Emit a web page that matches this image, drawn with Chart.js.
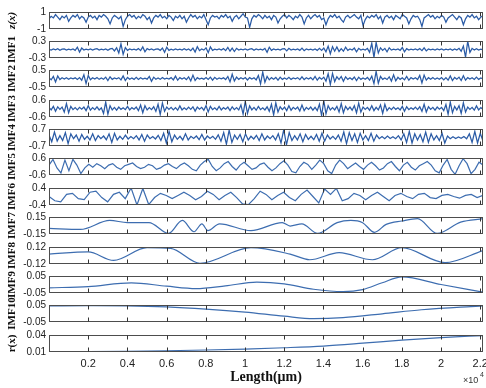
<!DOCTYPE html>
<html><head><meta charset="utf-8">
<script src="https://cdn.jsdelivr.net/npm/chart.js@4/dist/chart.umd.min.js"></script>
<style>
html,body{margin:0;padding:0;background:#fff;}
#wrap{position:relative;width:486px;height:388px;overflow:hidden;background:#fff;}
#wrap canvas{position:absolute;left:0;top:0;}
</style></head><body><div id="wrap"></div>
<script>
// ---------- DATA ----------
const panelNames = ['z(x)','IMF1','IMF2','IMF3','IMF4','IMF5','IMF6','IMF7','IMF8','IMF9','IMF10','r(x)'];
const yMaxVals = [1,0.3,0.5,0.6,0.7,0.6,0.4,0.15,0.12,0.05,0.05,0.04];
const yMinVals = [-1,-0.3,-0.5,-0.6,-0.7,-0.6,-0.4,-0.15,-0.12,-0.05,-0.05,0.01];
const yTopLabels = ['1','0.3','0.5','0.6','0.7','0.6','0.4','0.15','0.12','0.05','0.05','0.04'];
const yBottomLabels = ['-1','-0.3','-0.5','-0.6','-0.7','-0.6','-0.4','-0.15','-0.12','-0.05','-0.05','0.01'];
const xTickValues = [0.2,0.4,0.6,0.8,1.0,1.2,1.4,1.6,1.8,2.0,2.2];
const xTickLabels = ['0.2','0.4','0.6','0.8','1','1.2','1.4','1.6','1.8','2','2.2'];
const xMax = 2.214;

const zx = [
0.2,0.5,0.3,0.7,0.4,0.1,0.5,0.3,0.6,-0.1,0.3,0.6,0.4,0.7,0.2,0.5,0.3,-0.2,0.4,0.6,
0.3,0.5,0.1,0.6,0.4,0.7,0.5,0.2,-0.4,0.3,0.6,0.4,0.2,0.5,-0.7,0.1,0.5,0.7,0.4,0.6,
0.2,0.5,0.3,0.7,0.5,0.1,0.4,-0.3,0.3,0.6,0.4,0.7,0.3,0.5,0.2,0.6,0.4,0.0,0.5,0.3,
0.6,0.2,0.5,-0.2,0.3,0.7,0.4,0.6,0.2,0.5,0.3,0.7,0.1,-0.5,0.3,0.6,0.4,0.5,0.2,0.6,
0.4,0.7,0.3,0.5,-0.1,0.4,0.6,0.2,0.5,0.8,0.4,0.3,-0.8,0.2,0.6,0.4,0.7,0.5,0.2,0.6,
0.3,0.5,0.1,0.6,0.4,-0.3,0.2,0.5,0.7,0.3,0.6,0.4,0.1,0.5,0.3,0.7,0.4,-0.4,0.3,0.6,
0.2,0.5,0.7,0.4,0.6,0.1,0.3,-0.5,0.2,0.6,0.4,0.7,0.3,0.5,0.1,-0.2,0.4,0.6,0.3,0.5,
0.7,0.4,0.2,0.6,-0.6,0.1,0.5,0.3,0.6,0.4,0.7,0.2,0.5,-0.3,0.4,0.6,0.3,0.5,0.1,0.6,
0.4,0.2,0.7,0.5,0.3,-0.4,0.2,0.6,0.4,0.5,0.1,-0.7,0.3,0.5,0.7,0.4,0.6,0.2,0.5,0.3,
0.6,0.4,-0.2,0.3,0.5,0.7,0.4,0.1,0.5,0.3,-0.5,0.2,0.6,0.4,0.7,0.3,0.5,0.1,0.4,0.6];

const imf1 = [
0.01,-0.02,0.02,-0.01,0.03,-0.03,0.01,0.02,-0.02,0.01,-0.01,0.02,-0.03,0.08,-0.09,0.05,-0.02,0.01,-0.01,0.02,
-0.02,0.01,0.03,-0.02,0.01,-0.01,0.02,-0.03,0.02,0.04,-0.05,0.06,-0.12,0.2,-0.17,0.07,-0.03,0.02,-0.01,0.01,
-0.02,0.03,-0.04,0.09,-0.08,0.03,-0.01,0.02,-0.02,0.01,0.02,-0.03,0.05,-0.1,0.08,-0.03,0.01,-0.02,0.02,-0.01,
0.01,-0.02,0.03,-0.02,0.02,-0.04,0.05,-0.09,0.1,-0.04,0.02,-0.02,0.06,-0.11,0.09,-0.03,0.01,-0.01,0.02,-0.02,
0.03,-0.04,0.07,-0.06,0.05,-0.07,0.04,-0.02,0.01,-0.01,0.02,-0.02,0.01,0.03,-0.03,0.02,-0.01,0.01,-0.02,0.04,
-0.1,0.08,-0.03,0.02,-0.01,0.01,-0.02,0.02,0.03,-0.05,0.04,-0.02,0.01,-0.01,0.02,-0.03,0.05,-0.04,0.02,-0.01,
0.01,-0.02,0.02,-0.03,0.04,-0.03,0.05,-0.08,0.12,-0.15,0.1,-0.06,0.09,-0.07,0.03,-0.06,0.08,-0.03,0.02,-0.02,
0.05,-0.08,0.04,-0.02,0.01,-0.02,0.04,-0.1,0.22,-0.28,0.25,-0.12,0.06,-0.03,0.04,-0.08,0.06,-0.02,0.01,-0.01,
0.02,-0.03,0.07,-0.08,0.03,-0.02,0.01,-0.01,0.02,-0.02,0.03,-0.04,0.06,-0.05,0.02,-0.01,0.01,-0.02,0.02,-0.01,
0.02,-0.02,0.01,-0.01,0.02,-0.03,0.02,-0.02,0.04,-0.06,0.12,-0.27,0.29,-0.1,0.04,-0.02,0.03,-0.02,0.01,-0.01];

const imf2 = [
0.05,-0.08,0.12,-0.2,0.15,-0.06,0.04,-0.03,0.05,-0.04,0.03,-0.02,0.04,-0.06,0.05,-0.1,0.22,-0.3,0.18,-0.07,
0.04,-0.03,0.06,-0.05,0.03,-0.04,0.08,-0.12,0.1,-0.05,0.03,-0.02,0.05,-0.08,0.15,-0.12,0.06,-0.04,0.03,-0.05,
0.07,-0.06,0.04,-0.03,0.02,-0.04,0.12,-0.16,0.08,-0.04,0.03,-0.05,0.06,-0.03,0.02,-0.03,0.05,-0.08,0.14,-0.1,
0.05,-0.03,0.04,-0.06,0.1,-0.14,0.2,-0.12,0.05,-0.03,0.02,-0.04,0.06,-0.05,0.08,-0.1,0.07,-0.04,0.03,-0.02,
0.04,-0.06,0.12,-0.2,0.25,-0.15,0.08,-0.05,0.04,-0.03,0.06,-0.09,0.05,-0.03,0.04,-0.08,0.18,-0.32,0.38,-0.22,
0.12,-0.08,0.05,-0.04,0.06,-0.1,0.08,-0.05,0.03,-0.04,0.07,-0.05,0.03,-0.02,0.05,-0.07,0.1,-0.06,0.04,-0.03,
0.05,-0.08,0.12,-0.1,0.06,-0.04,0.08,-0.15,0.28,-0.35,0.3,-0.18,0.1,-0.06,0.12,-0.16,0.1,-0.05,0.04,-0.06,
0.09,-0.12,0.08,-0.05,0.03,-0.04,0.06,-0.1,0.14,-0.3,0.42,-0.28,0.12,-0.05,0.03,-0.06,0.1,-0.15,0.22,-0.14,
0.07,-0.05,0.04,-0.08,0.12,-0.1,0.05,-0.03,0.04,-0.06,0.18,-0.26,0.2,-0.1,0.05,-0.04,0.06,-0.05,0.03,-0.04,
0.06,-0.08,0.05,-0.1,0.15,-0.12,0.06,-0.04,0.08,-0.12,0.16,-0.1,0.05,-0.03,0.04,-0.06,0.08,-0.05,0.03,-0.02];

const imf3 = [
0.08,-0.1,0.15,-0.2,0.12,-0.06,0.1,-0.25,0.35,-0.3,0.15,-0.08,0.06,-0.1,0.08,-0.05,0.1,-0.15,0.2,-0.12,
0.06,-0.08,0.12,-0.1,0.05,-0.35,0.45,-0.4,0.2,-0.1,0.08,-0.12,0.1,-0.06,0.05,-0.08,0.15,-0.1,0.06,-0.05,
0.1,-0.15,0.25,-0.3,0.2,-0.1,0.06,-0.08,0.12,-0.2,0.3,-0.42,0.38,-0.2,0.1,-0.06,0.08,-0.1,0.06,-0.12,
0.18,-0.1,0.05,-0.08,0.1,-0.06,0.12,-0.18,0.1,-0.05,0.08,-0.12,0.2,-0.25,0.15,-0.08,0.05,-0.1,0.14,-0.1,
0.06,-0.05,0.1,-0.15,0.12,-0.08,0.06,-0.1,0.25,-0.4,0.5,-0.35,0.18,-0.1,0.08,-0.12,0.15,-0.08,0.05,-0.1,
0.12,-0.2,0.3,-0.45,0.4,-0.25,0.12,-0.08,0.1,-0.15,0.2,-0.12,0.08,-0.05,0.1,-0.18,0.25,-0.15,0.08,-0.06,
0.1,-0.12,0.08,-0.15,0.3,-0.5,0.55,-0.38,0.2,-0.1,0.06,-0.1,0.15,-0.25,0.35,-0.3,0.15,-0.08,0.1,-0.12,
0.2,-0.3,0.38,-0.25,0.1,-0.06,0.08,-0.12,0.2,-0.15,0.08,-0.1,0.25,-0.35,0.3,-0.15,0.06,-0.08,0.1,-0.06,
0.05,-0.1,0.15,-0.2,0.12,-0.08,0.05,-0.06,0.1,-0.08,0.12,-0.2,0.3,-0.25,0.12,-0.06,0.08,-0.12,0.1,-0.05,
0.08,-0.15,0.28,-0.4,0.45,-0.3,0.15,-0.1,0.2,-0.35,0.4,-0.25,0.1,-0.06,0.08,-0.12,0.18,-0.1,0.06,-0.05];

const imf4 = [
0.2,-0.35,0.45,-0.3,0.15,-0.25,0.4,-0.5,0.3,-0.1,0.2,-0.3,0.25,-0.15,0.1,-0.2,0.3,-0.25,0.15,-0.1,
0.12,-0.18,0.3,-0.4,0.35,-0.2,0.1,-0.15,0.2,-0.12,0.08,-0.1,0.15,-0.2,0.25,-0.3,0.2,-0.1,0.08,-0.12,
0.18,-0.25,0.35,-0.45,0.5,-0.35,0.2,-0.15,0.1,-0.2,0.3,-0.2,0.1,-0.08,0.12,-0.18,0.25,-0.2,0.12,-0.08,
0.1,-0.15,0.22,-0.3,0.4,-0.55,0.6,-0.4,0.2,-0.15,0.25,-0.35,0.3,-0.2,0.1,-0.12,0.18,-0.25,0.3,-0.2,
0.12,-0.1,0.15,-0.2,0.3,-0.45,0.65,-0.6,0.4,-0.25,0.15,-0.2,0.3,-0.35,0.25,-0.15,0.1,-0.18,0.25,-0.3,
0.35,-0.3,0.2,-0.12,0.1,-0.15,0.2,-0.3,0.45,-0.5,0.4,-0.25,0.3,-0.4,0.35,-0.2,0.15,-0.25,0.35,-0.3,
0.2,-0.1,0.08,-0.1,0.12,-0.08,0.06,-0.1,0.15,-0.2,0.3,-0.4,0.5,-0.45,0.3,-0.2,0.25,-0.35,0.45,-0.4,
0.3,-0.2,0.15,-0.25,0.35,-0.45,0.12,-0.1,0.06,-0.08,0.05,-0.06,0.08,-0.1,0.3,-0.4,0.5,-0.45,0.35,-0.3];

const imf5 = [
0.1,0.5,-0.1,-0.45,0.45,-0.3,0.5,0.1,-0.5,-0.1,
0.15,-0.05,0.2,0.05,-0.15,0.1,0.2,-0.05,-0.2,0.05,0.15,0.25,0.0,-0.15,-0.05,0.15,0.05,-0.2,-0.1,0.1,
0.2,0.0,-0.15,0.1,0.25,0.05,-0.2,-0.3,0.1,0.35,
0.5,0.0,-0.3,-0.1,0.2,0.35,0.0,-0.25,0.1,0.3,0.05,-0.2,-0.1,0.15,0.25,-0.05,-0.3,-0.1,0.2,0.4,
0.1,-0.35,-0.45,0.0,0.3,0.15,-0.2,0.1,0.45,0.2,
-0.3,-0.5,0.1,0.45,0.2,-0.15,0.05,0.25,0.0,-0.2,0.1,0.3,0.05,-0.25,-0.1,0.2,0.35,0.0,-0.3,0.1,
0.3,-0.05,-0.25,0.05,0.2,0.35,0.1,-0.3,-0.45,0.1,0.5,-0.2,-0.55,0.05,0.55,0.2,-0.5,-0.2,0.3,0.1];

const imf6 = [
0.0,-0.2,-0.25,0.1,0.15,-0.1,-0.15,0.2,0.25,-0.05,-0.25,0.1,0.2,-0.1,0.4,
-0.4,0.38,-0.38,-0.05,0.15,0.05,-0.1,0.05,0.2,0.05,-0.15,0.0,0.25,0.1,-0.15,
0.05,0.2,-0.05,-0.35,-0.38,-0.1,0.25,0.1,-0.15,0.05,0.2,-0.05,-0.2,0.1,0.3,
0.0,-0.3,0.35,0.1,0.38,-0.2,-0.1,0.15,0.05,-0.15,0.05,0.2,0.0,-0.2,0.05,
0.15,0.0,-0.1,0.1,0.15,-0.05,-0.1,0.05,0.1,0.0,-0.08,0.05,0.1,-0.05,0.05];

const imf7X = [0,0.16,0.31,0.4,0.51,0.61,0.68,0.74,0.78,0.81,0.87,1.03,1.19,1.23,1.29,1.37,1.47,1.54,1.6,1.66,1.72,1.8,1.88,1.98,2.1,2.214];
const imf7Y = [-0.05,-0.07,0.09,0.05,0.05,-0.14,0.09,-0.11,0.03,-0.09,0.03,-0.09,0.05,-0.01,0.03,-0.14,0.05,0.09,0.05,-0.12,0.02,0.08,0.12,-0.14,0.06,0.12];

const imf8X = [0,0.2,0.33,0.5,0.62,0.77,1.03,1.23,1.33,1.48,1.65,1.8,2.02,2.214];
const imf8Y = [0.02,0.05,-0.07,0.11,0.1,-0.11,0.11,0.02,-0.06,0.04,-0.06,0.11,-0.1,0.07];

const imf9X = [0,0.2,0.42,0.6,0.75,0.9,1.06,1.2,1.35,1.5,1.6,1.7,1.8,2.0,2.214];
const imf9Y = [-0.02,-0.012,0.01,-0.01,-0.024,-0.008,0.014,0.004,-0.028,-0.042,-0.03,0.01,0.045,0.0,-0.045];

const imf10X = [0,0.2,0.4,0.6,0.8,1.0,1.2,1.35,1.5,1.7,1.9,2.1,2.214];
const imf10Y = [0.044,0.046,0.045,0.039,0.026,0.008,-0.016,-0.03,-0.024,-0.002,0.022,0.038,0.044];

const rX = [0,0.2,0.4,0.6,0.8,1.0,1.2,1.4,1.6,1.8,2.0,2.214];
const rY = [0.010,0.0105,0.0112,0.0122,0.0135,0.0152,0.0175,0.0205,0.0255,0.031,0.0355,0.039];

// ---------- BUILD ----------
function evenPoints(vals){
  const n = vals.length;
  return vals.map((v,i)=>({x: i*xMax/(n-1), y: v}));
}
function xyPoints(xs, ys){ return xs.map((x,i)=>({x:x, y:ys[i]})); }

const seriesList = [
  {pts: evenPoints(zx), smooth:false},
  {pts: evenPoints(imf1), smooth:false},
  {pts: evenPoints(imf2), smooth:false},
  {pts: evenPoints(imf3), smooth:false},
  {pts: evenPoints(imf4), smooth:false},
  {pts: evenPoints(imf5), smooth:true},
  {pts: evenPoints(imf6), smooth:true},
  {pts: xyPoints(imf7X, imf7Y), smooth:true},
  {pts: xyPoints(imf8X, imf8Y), smooth:true},
  {pts: xyPoints(imf9X, imf9Y), smooth:true},
  {pts: xyPoints(imf10X, imf10Y), smooth:true},
  {pts: xyPoints(rX, rY), smooth:true}
];

// layout (pixels)
const W = 486, H = 388;
const panelTops = [12,41,70,100,129,158,188,217,247,276,305,335];
const panelH = 17;
const axisLeft = 49, padRight = 3;

Chart.defaults.font.family = "'Liberation Sans', Arial, sans-serif";
Chart.defaults.color = '#222';

const framePlugin = {
  id: 'frame',
  afterDatasetsDraw(chart, args, opts){
    const {ctx, chartArea:a, scales} = chart;
    const xs = scales.x;
    ctx.save();
    ctx.strokeStyle = '#4d4d4d';
    ctx.lineWidth = 1;
    const L = Math.round(a.left)+0.5, T = Math.round(a.top)+0.5;
    const R = Math.round(a.right)-0.5, B = Math.round(a.bottom)-0.5;
    ctx.strokeRect(L, T, R-L, B-T);
    ctx.strokeStyle = '#333';
    ctx.beginPath();
    xTickValues.forEach(v=>{
      const px = Math.round(xs.getPixelForValue(v))+0.5;
      ctx.moveTo(px, T); ctx.lineTo(px, T+4);
      ctx.moveTo(px, B); ctx.lineTo(px, B-4);
    });
    ctx.stroke();
    if (opts && opts.exponent){
      ctx.fillStyle = '#333';
      ctx.textBaseline = 'alphabetic';
      ctx.font = "9px 'Liberation Sans', Arial, sans-serif";
      ctx.fillText('\u00d710', 463, 383);
      ctx.font = "7px 'Liberation Sans', Arial, sans-serif";
      ctx.fillText('4', 480, 377);
    }
    ctx.restore();
  }
};

const wrap = document.getElementById('wrap');
panelNames.forEach((name, i)=>{
  const last = (i === panelNames.length-1);
  const cv = document.createElement('canvas');
  cv.width = W; cv.height = H;
  cv.style.width = W+'px'; cv.style.height = H+'px';
  wrap.appendChild(cv);
  const top = panelTops[i];
  const bottomPad = last ? 2 : (H - top - panelH);
  const s = seriesList[i];
  new Chart(cv, {
    type: 'line',
    data: { datasets: [{
      data: s.pts,
      borderColor: s.smooth ? '#3d6db0' : '#2a5ba6',
      borderWidth: s.smooth ? 1.2 : 1.25,
      pointRadius: 0,
      fill: false,
      tension: 0,
      cubicInterpolationMode: s.smooth && i >= 7 ? 'monotone' : 'default'
    }]},
    options: {
      responsive: false,
      animation: false,
      devicePixelRatio: 1,
      layout: { padding: { left: 0, right: padRight, top: top, bottom: bottomPad } },
      plugins: { legend: {display:false}, tooltip: {enabled:false},
                 frame: { exponent: last } },
      scales: {
        x: {
          type: 'linear', min: 0, max: xMax,
          grid: { display: false, drawTicks: false },
          border: { display: false },
          afterBuildTicks: sc => { sc.ticks = xTickValues.map(v=>({value:v})); },
          ticks: {
            display: last, autoSkip: false, maxRotation: 0, padding: 5,
            font: { size: 11 }, color: '#222',
            callback: (v, idx) => xTickLabels[idx]
          },
          title: {
            display: last, text: 'Length(\u03bcm)',
            font: { family: "'Liberation Serif', 'Times New Roman', serif", size: 14, weight: 'bold' },
            color: '#111', padding: { top: 0, bottom: 0 }
          },
          afterFit: sc => { sc.height = last ? 34 : 0; sc.paddingLeft = 0; sc.paddingRight = 0; }
        },
        y: {
          type: 'linear', min: yMinVals[i], max: yMaxVals[i],
          grid: { display: false, drawTicks: false },
          border: { display: false },
          afterBuildTicks: sc => { sc.ticks = [{value: yMinVals[i]}, {value: yMaxVals[i]}]; },
          ticks: {
            padding: 3, font: { size: 10 }, color: '#222', autoSkip: false,
            callback: (v, idx) => idx === 0 ? yBottomLabels[i] : yTopLabels[i]
          },
          title: {
            display: true, text: name,
            font: { family: "'Liberation Serif', 'Times New Roman', serif", size: 11, weight: 'bold',
                    style: i === 0 ? 'italic' : 'normal' },
            color: '#111', padding: { top: 6, bottom: 0 }
          },
          afterFit: sc => { sc.width = axisLeft; sc.paddingTop = 0; sc.paddingBottom = 0; }
        }
      }
    },
    plugins: [framePlugin]
  });
});
</script>
</body></html>
